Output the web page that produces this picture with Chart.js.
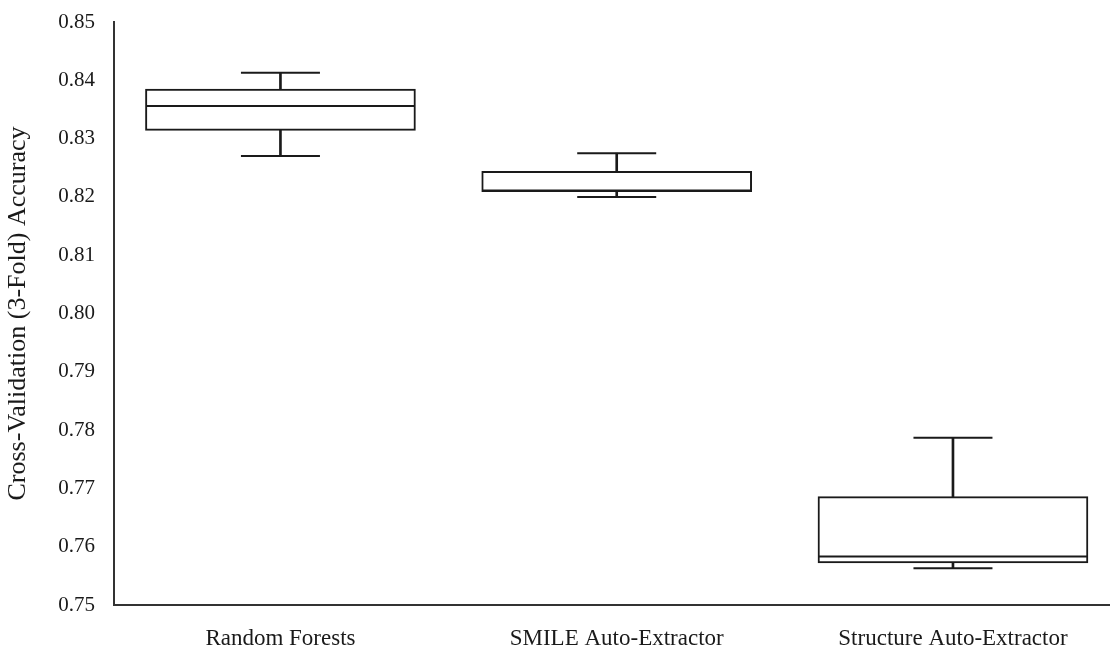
<!DOCTYPE html>
<html>
<head>
<meta charset="utf-8">
<script src="https://cdn.jsdelivr.net/npm/chart.js@4.4.1/dist/chart.umd.min.js"></script>
<style>
  html, body { margin:0; padding:0; background:#fff; overflow:hidden; }
  canvas { display:block; }
</style>
</head>
<body>
<canvas id="boxChart" width="1110" height="647"></canvas>
<script>
const categories = ['Random Forests', 'SMILE Auto-Extractor', 'Structure Auto-Extractor'];
const whiskerMin = [0.8270, 0.8200, 0.7563];
const q1         = [0.8314, 0.8209, 0.7572];
const median     = [0.8356, 0.8211, 0.7583];
const q3         = [0.8385, 0.8244, 0.7686];
const whiskerMax = [0.8413, 0.8275, 0.7787];
const yTicks = [0.75, 0.76, 0.77, 0.78, 0.79, 0.80, 0.81, 0.82, 0.83, 0.84, 0.85];

const serif = "'Liberation Serif', 'Times New Roman', serif";
const ink = '#1a1a1a';

const idx = categories.map((_, i) => i);

new Chart(document.getElementById('boxChart').getContext('2d'), {
  type: 'bar',
  data: {
    datasets: [
      // box (drawn on top of whisker stem)
      { label:'box', order:2, grouped:false, barThickness:270,
        data: idx.map(i => ({ x:i, y:[q1[i], q3[i]] })),
        backgroundColor:'#fff', borderColor:ink, borderWidth:2, borderSkipped:false },
      // whisker stem
      { label:'stem', order:3, grouped:false, barThickness:2,
        data: idx.map(i => ({ x:i, y:[whiskerMin[i], whiskerMax[i]] })),
        backgroundColor:ink, borderWidth:0 },
      // whisker caps
      { label:'caps', type:'scatter', order:1,
        data: idx.flatMap(i => [{ x:i, y:whiskerMin[i] }, { x:i, y:whiskerMax[i] }]),
        pointStyle:'line', pointRadius:39.5, pointHoverRadius:39.5, pointBorderColor:ink, pointBorderWidth:2 },
      // median
      { label:'median', type:'scatter', order:0,
        data: idx.map(i => ({ x:i, y:median[i] })),
        pointStyle:'line', pointRadius:134, pointHoverRadius:134, pointBorderColor:ink, pointBorderWidth:2 }
    ]
  },
  options: {
    responsive:false, animation:false, devicePixelRatio:1,
    layout:{ autoPadding:false, padding:{ top:22, right:0, left:0, bottom:0 } },
    plugins:{ legend:{ display:false }, tooltip:{ enabled:false } },
    scales:{
      x:{
        type:'linear', min:-0.495, max:2.467, offset:false,
        afterBuildTicks: s => { s.ticks = idx.map(v => ({ value:v })); },
        afterFit: s => { s.height = 42; s.paddingLeft = 0; s.paddingRight = 0; },
        grid:{ display:false, drawTicks:false, offset:false },
        border:{ display:true, color:'#333', width:2 },
        ticks:{ color:ink, padding:20, maxRotation:0, font:{ family:serif, size:23 },
                callback: v => categories[v] }
      },
      y:{
        min:0.75, max:0.85,
        afterBuildTicks: s => { s.ticks = yTicks.map(v => ({ value:v })); },
        afterFit: s => { s.width = 114; s.paddingTop = 0; s.paddingBottom = 0; },
        grid:{ display:false, drawTicks:false },
        border:{ display:true, color:'#333', width:2 },
        ticks:{ color:ink, padding:19, font:{ family:serif, size:21 }, callback: v => v.toFixed(2) },
        title:{ display:true, text:'Cross-Validation (3-Fold) Accuracy', color:ink,
                font:{ family:serif, size:26 }, padding:{ top:3, bottom:4 } }
      }
    }
  }
});
</script>
</body>
</html>
